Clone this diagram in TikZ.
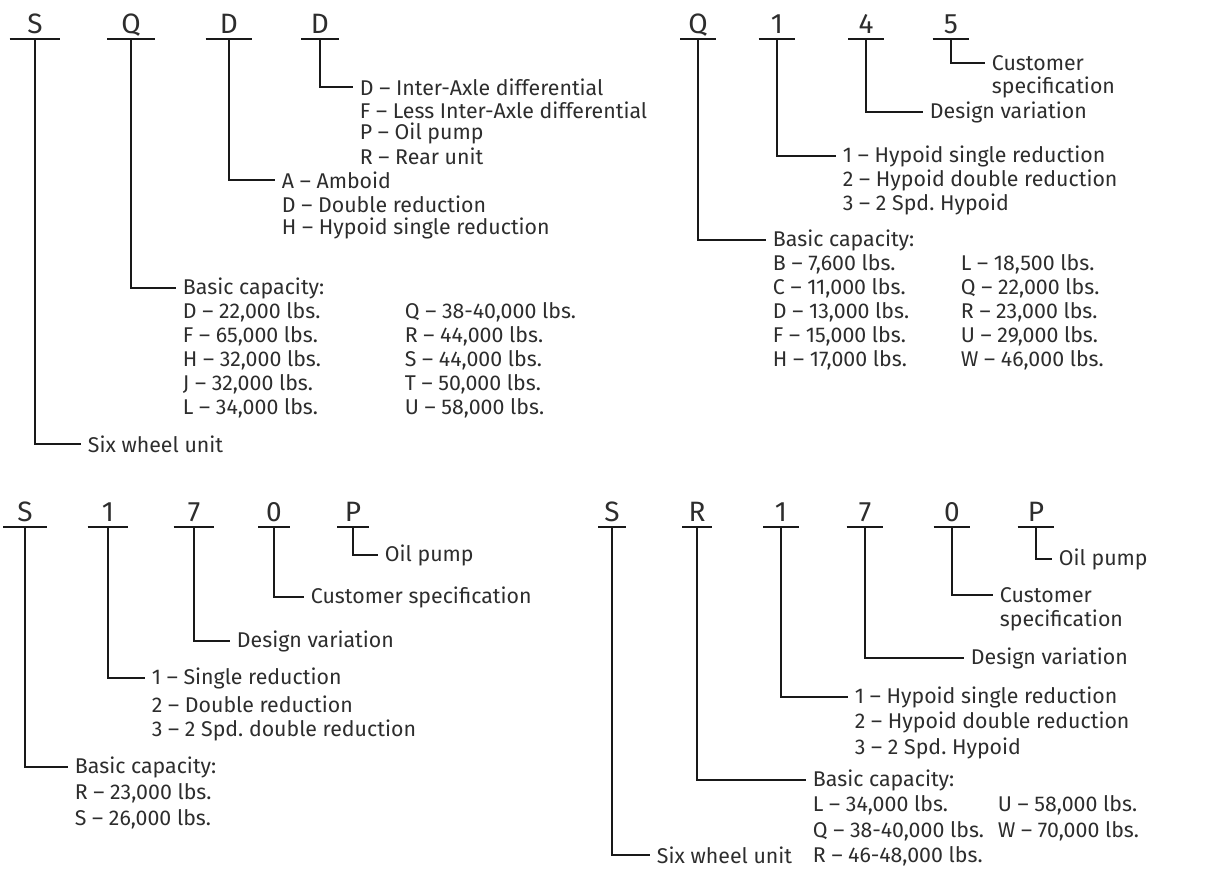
\documentclass[tikz,border=0pt]{standalone}
\usepackage{fontspec}
\setmainfont{Fira Sans}
\usepackage{xcolor}
\usepackage{tikz}
\usetikzlibrary{positioning}
\definecolor{inkgray}{RGB}{45, 45, 45}
\definecolor{leadblack}{RGB}{25, 25, 25}
\frenchspacing

\begin{document}
\begin{tikzpicture}[
    x=0.75pt, y=-0.75pt,
    letter/.style={font=\fontsize{21}{25}\selectfont, text=inkgray, text depth=0pt,
                   inner xsep=0pt, inner ysep=4pt, anchor=south, minimum width={0.75pt*#1}},
    bar/.style={line width=2pt, draw=leadblack},
    lead/.style={line width=2pt, draw=leadblack},
    note/.style={font=\fontsize{16}{19}\selectfont, text=inkgray,
                 anchor=west, inner xsep=5pt, inner ysep=0pt}
]
    \useasboundingbox (0,0) rectangle (1222,870);

    % S Q D D
    \node[letter=50] (tlS) at (35,39) {S};
    \node[letter=47] (tlQ) at (131,39) {Q};
    \node[letter=46] (tlD) at (229,39) {D};
    \node[letter=37] (tlDD) at (320,39) {D};
    \foreach \n in {tlS,tlQ,tlD,tlDD} \draw[bar] (\n.south west) -- (\n.south east);

    \foreach \txt [count=\i] in {D -- Inter-Axle differential, F -- Less Inter-Axle differential,
                                 P -- Oil pump, R -- Rear unit}
        \node[note] (tlDD\i) at (353,64+23*\i) {\txt};
    \foreach \txt [count=\i] in {A -- Amboid, D -- Double reduction, H -- Hypoid single reduction}
        \node[note] (tlD\i) at (275,156+24*\i) {\txt};
    \node[note] (tlQ0) at (176,288) {Basic capacity:};
    \foreach \txt [count=\i] in {{D -- 22,000 lbs.}, {F -- 65,000 lbs.}, {H -- 32,000 lbs.},
                                 {J -- 32,000 lbs.}, {L -- 34,000 lbs.}}
        \node[note] (tlQa\i) at (176,288+24*\i) {\txt};
    \foreach \txt [count=\i] in {{Q -- 38-40,000 lbs.}, {R -- 44,000 lbs.}, {S -- 44,000 lbs.},
                                 {T -- 50,000 lbs.}, {U -- 58,000 lbs.}}
        \node[note] (tlQb\i) at (398,288+24*\i) {\txt};
    \node[note] (tlS0) at (81,444) {Six wheel unit};

    \draw[lead] (tlDD.south) |- (tlDD1.west);
    \draw[lead] (tlD.south) |- (tlD1.west);
    \draw[lead] (tlQ.south) |- (tlQ0.west);
    \draw[lead] (tlS.south) |- (tlS0.west);

    % Q 1 4 5
    \node[letter=35] (trQ) at (698,39) {Q};
    \node[letter=36] (tr1) at (777,39) {1};
    \node[letter=35] (tr4) at (866,39) {4};
    \node[letter=36] (tr5) at (951,39) {5};
    \foreach \n in {trQ,tr1,tr4,tr5} \draw[bar] (\n.south west) -- (\n.south east);

    \node[note] (tr50) at (985,63) {Customer};
    \node[note] (tr51) at (985,87) {specification};
    \node[note] (tr40) at (923,112) {Design variation};
    \foreach \txt [count=\i] in {1 -- Hypoid single reduction, 2 -- Hypoid double reduction,
                                 3 -- 2 Spd. Hypoid}
        \node[note] (tr1\i) at (836,132+24*\i) {\txt};
    \node[note] (trQ0) at (766,240) {Basic capacity:};
    \foreach \txt [count=\i] in {{B -- 7,600 lbs.}, {C -- 11,000 lbs.}, {D -- 13,000 lbs.},
                                 {F -- 15,000 lbs.}, {H -- 17,000 lbs.}}
        \node[note] (trQa\i) at (766,240+24*\i) {\txt};
    \foreach \txt [count=\i] in {{L -- 18,500 lbs.}, {Q -- 22,000 lbs.}, {R -- 23,000 lbs.},
                                 {U -- 29,000 lbs.}, {W -- 46,000 lbs.}}
        \node[note] (trQb\i) at (954,240+24*\i) {\txt};

    \draw[lead] (tr5.south) |- (tr50.west);
    \draw[lead] (tr4.south) |- (tr40.west);
    \draw[lead] (tr1.south) |- (tr11.west);
    \draw[lead] (trQ.south) |- (trQ0.west);

    % S 1 7 0 P
    \node[letter=43] (blS) at (25,527) {S};
    \node[letter=40] (bl1) at (108,527) {1};
    \node[letter=40] (bl7) at (194,527) {7};
    \node[letter=31] (bl0) at (274,527) {0};
    \node[letter=31] (blP) at (353,527) {P};
    \foreach \n in {blS,bl1,bl7,bl0,blP} \draw[bar] (\n.south west) -- (\n.south east);

    \node[note] (blP0) at (378,555) {Oil pump};
    \node[note] (bl00) at (304,597) {Customer specification};
    \node[note] (bl70) at (230,641) {Design variation};
    \foreach \txt [count=\i] in {1 -- Single reduction, 2 -- Double reduction,
                                 3 -- 2 Spd. double reduction}
        \node[note] (bl1\i) at (145,652+26*\i) {\txt};
    \node[note] (blS0) at (68,767) {Basic capacity:};
    \node[note] (blS1) at (68,793) {R -- 23,000 lbs.};
    \node[note] (blS2) at (68,819) {S -- 26,000 lbs.};

    \draw[lead] (blP.south) |- (blP0.west);
    \draw[lead] (bl0.south) |- (bl00.west);
    \draw[lead] (bl7.south) |- (bl70.west);
    \draw[lead] (bl1.south) |- (bl11.west);
    \draw[lead] (blS.south) |- (blS0.west);

    % S R 1 7 0 P
    \node[letter=27] (brS) at (612,527) {S};
    \node[letter=29] (brR) at (697,527) {R};
    \node[letter=35] (br1) at (781,527) {1};
    \node[letter=36] (br7) at (865,527) {7};
    \node[letter=36] (br0) at (952,527) {0};
    \node[letter=36] (brP) at (1036,527) {P};
    \foreach \n in {brS,brR,br1,br7,br0,brP} \draw[bar] (\n.south west) -- (\n.south east);

    \node[note] (brP0) at (1052,559) {Oil pump};
    \node[note] (br00) at (993,595) {Customer};
    \node[note] (br01) at (993,620) {specification};
    \node[note] (br70) at (964,658) {Design variation};
    \foreach \txt [count=\i] in {1 -- Hypoid single reduction, 2 -- Hypoid double reduction,
                                 3 -- 2 Spd. Hypoid}
        \node[note] (br1\i) at (848,671.5+25.5*\i) {\txt};
    \node[note] (brR0) at (806,780) {Basic capacity:};
    \foreach \txt [count=\i] in {{L -- 34,000 lbs.}, {Q -- 38-40,000 lbs.}, {R -- 46-48,000 lbs.}}
        \node[note] (brRa\i) at (806,780+25.5*\i) {\txt};
    \foreach \txt [count=\i] in {{U -- 58,000 lbs.}, {W -- 70,000 lbs.}}
        \node[note] (brRb\i) at (991,780+25.5*\i) {\txt};
    \node[note] (brS0) at (650,855) {Six wheel unit};

    \draw[lead] (brP.south) |- (brP0.west);
    \draw[lead] (br0.south) |- (br00.west);
    \draw[lead] (br7.south) |- (br70.west);
    \draw[lead] (br1.south) |- (br11.west);
    \draw[lead] (brR.south) |- (brR0.west);
    \draw[lead] (brS.south) |- (brS0.west);
\end{tikzpicture}
\end{document}
